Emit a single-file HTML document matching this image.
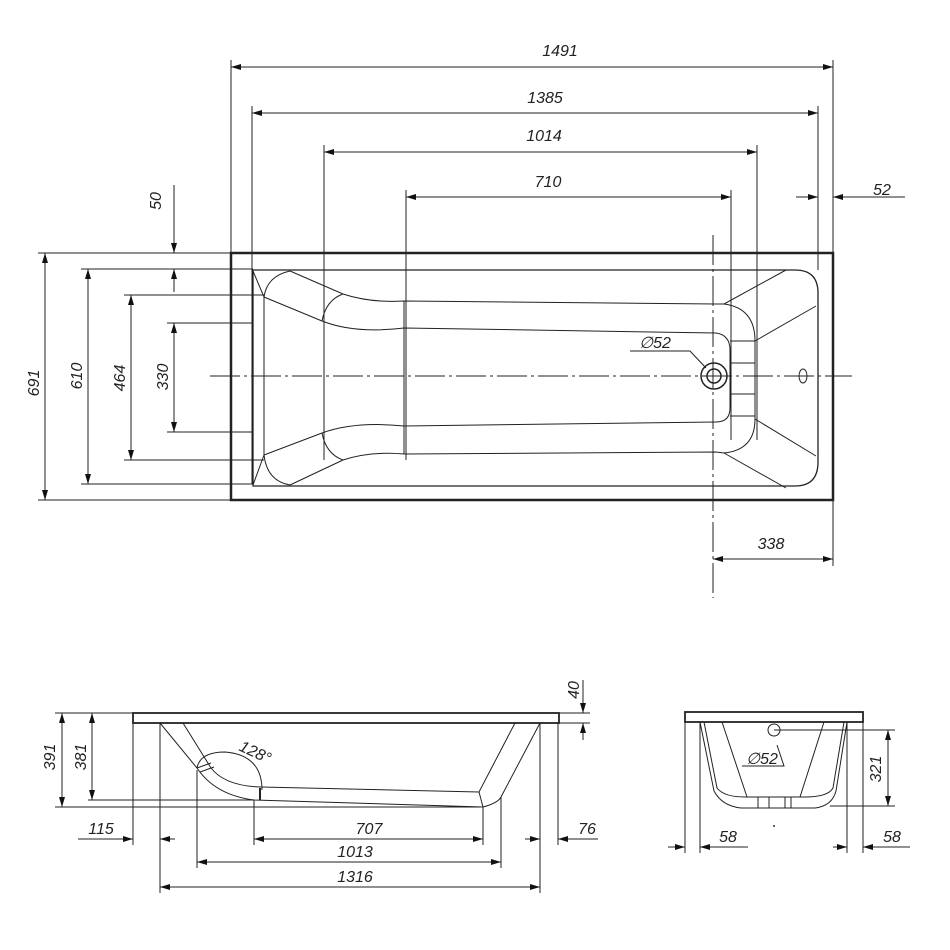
<!DOCTYPE html>
<html><head><meta charset="utf-8"><style>
html,body{margin:0;padding:0;background:#fff}
svg{display:block}
text{font-family:"Liberation Sans",sans-serif;font-style:italic;font-size:16px;fill:#222}
</style></head><body>
<svg width="950" height="950" viewBox="0 0 950 950" xmlns="http://www.w3.org/2000/svg">
<defs>
<marker id="a" viewBox="0 0 10 6" refX="10" refY="3" markerWidth="10" markerHeight="6" orient="auto-start-reverse" markerUnits="userSpaceOnUse"><path d="M0,0L10,3L0,6z" fill="#111"/></marker>
</defs>
<g stroke="#222" stroke-width="1" fill="none">
<!-- top dims -->
<line x1="231" y1="67" x2="833" y2="67" marker-start="url(#a)" marker-end="url(#a)"/>
<line x1="252" y1="113" x2="818" y2="113" marker-start="url(#a)" marker-end="url(#a)"/>
<line x1="324" y1="152" x2="757" y2="152" marker-start="url(#a)" marker-end="url(#a)"/>
<line x1="406" y1="197" x2="731" y2="197" marker-start="url(#a)" marker-end="url(#a)"/>
<line x1="796" y1="197" x2="818" y2="197" marker-end="url(#a)"/>
<line x1="905" y1="197" x2="833" y2="197" marker-end="url(#a)"/>
<line x1="231" y1="60" x2="231" y2="253"/>
<line x1="252" y1="106" x2="252" y2="484"/>
<line x1="324" y1="145" x2="324" y2="460"/>
<line x1="406" y1="190" x2="406" y2="460"/>
<line x1="731" y1="190" x2="731" y2="440"/>
<line x1="757" y1="145" x2="757" y2="440"/>
<line x1="818" y1="106" x2="818" y2="270"/>
<line x1="833" y1="60" x2="833" y2="566"/>
<line x1="713" y1="235" x2="713" y2="598" stroke-dasharray="30,4,3,4"/>
<line x1="713" y1="559" x2="833" y2="559" marker-start="url(#a)" marker-end="url(#a)"/>
<!-- left dims -->
<line x1="45" y1="253" x2="45" y2="500" marker-start="url(#a)" marker-end="url(#a)"/>
<line x1="88" y1="269" x2="88" y2="484" marker-start="url(#a)" marker-end="url(#a)"/>
<line x1="131" y1="295" x2="131" y2="460" marker-start="url(#a)" marker-end="url(#a)"/>
<line x1="174" y1="323" x2="174" y2="432" marker-start="url(#a)" marker-end="url(#a)"/>
<line x1="174" y1="185" x2="174" y2="253" marker-end="url(#a)"/>
<line x1="174" y1="292" x2="174" y2="269" marker-end="url(#a)"/>
<line x1="38" y1="253" x2="231" y2="253"/>
<line x1="38" y1="500" x2="231" y2="500"/>
<line x1="81" y1="269" x2="253" y2="269"/>
<line x1="81" y1="484" x2="253" y2="484"/>
<line x1="124" y1="295" x2="264" y2="295"/>
<line x1="124" y1="460" x2="264" y2="460"/>
<line x1="167" y1="323" x2="253" y2="323"/>
<line x1="167" y1="432" x2="253" y2="432"/>
<!-- outer rect -->
<rect x="231" y="253" width="602" height="247" stroke-width="2.5"/>
<!-- inner rim -->
<path d="M253,270 H795 Q818,270 818,293 V462 Q818,486 795,486 H253 Z" stroke-width="1.3"/>
<!-- head end -->
<path d="M290,271 Q267,276 264,297 V455 Q267,481 290,485"/>
<path d="M253,271 L264,297 M253,485 L264,455"/>
<path d="M290,271 L343,294 M290,485 L343,460"/>
<path d="M264,297 L322,321 M264,455 L322,433"/>
<!-- upper band -->
<path d="M343,294 Q326,300 322,321"/>
<path d="M343,294 Q370,303 404,301 L716,304 L724,304"/>
<path d="M322,321 Q355,334 404,328 L716,333"/>
<!-- lower band -->
<path d="M343,460 Q326,454 322,433"/>
<path d="M343,460 Q370,451 404,454 L716,452 L724,453"/>
<path d="M322,433 Q355,421 404,426 L716,422"/>
<line x1="404" y1="301" x2="404" y2="454"/>
<!-- foot end -->
<path d="M724,304 Q755,308 755,341 V419 Q755,450 724,453"/>
<path d="M716,333 Q730,335 730,350 V408 Q730,422 716,422"/>
<path d="M724,304 L786,270 M755,341 L816,306 M755,419 L816,456 M724,453 L786,488"/>
<line x1="730" y1="341" x2="755" y2="341"/><line x1="730" y1="363" x2="755" y2="363"/>
<line x1="730" y1="394" x2="755" y2="394"/><line x1="730" y1="416" x2="755" y2="416"/>
<!-- centerline -->
<line x1="210" y1="376" x2="852" y2="376" stroke-dasharray="30,4,3,4"/>
<circle cx="714" cy="376" r="13" stroke-width="1.5"/>
<circle cx="714" cy="376" r="7" stroke-width="1.5"/>
<ellipse cx="803" cy="376" rx="4" ry="7"/>
<path d="M630,351 H690 L706,368" />

<!-- SIDE VIEW -->
<rect x="133" y="713" width="426" height="10" stroke-width="1.8"/>
<path d="M160,723 L197,768 Q215,795 254,800 L483,807 Q498,803 501,797 L540,723"/>
<path d="M183,723 L211,768 Q225,786 261,787 L479,792 L515,723"/>
<path d="M197,768 L211,763 M200,772 L214,767"/>
<path d="M479,792 L483,807"/>
<path d="M197,768 Q200,752 225,752 Q262,755 262,790" />
<line x1="260" y1="788" x2="260" y2="800" stroke-width="2"/>
<!-- side dims -->
<line x1="62" y1="713" x2="62" y2="807" marker-start="url(#a)" marker-end="url(#a)"/>
<line x1="92" y1="713" x2="92" y2="800" marker-start="url(#a)" marker-end="url(#a)"/>
<line x1="55" y1="713" x2="133" y2="713"/>
<line x1="88" y1="800" x2="254" y2="800"/>
<line x1="55" y1="807" x2="480" y2="807"/>
<line x1="559" y1="713" x2="590" y2="713"/><line x1="559" y1="723" x2="590" y2="723"/>
<line x1="583" y1="680" x2="583" y2="713" marker-end="url(#a)"/>
<line x1="583" y1="740" x2="583" y2="723" marker-end="url(#a)"/>
<line x1="133" y1="723" x2="133" y2="845"/>
<line x1="160" y1="723" x2="160" y2="893"/>
<line x1="540" y1="723" x2="540" y2="893"/>
<line x1="558" y1="723" x2="558" y2="845"/>
<line x1="197" y1="770" x2="197" y2="868"/>
<line x1="501" y1="797" x2="501" y2="868"/>
<line x1="254" y1="800" x2="254" y2="845"/>
<line x1="483" y1="807" x2="483" y2="845"/>
<line x1="78" y1="839" x2="133" y2="839" marker-end="url(#a)"/>
<line x1="175" y1="839" x2="160" y2="839" marker-end="url(#a)"/>
<line x1="525" y1="839" x2="540" y2="839" marker-end="url(#a)"/>
<line x1="598" y1="839" x2="558" y2="839" marker-end="url(#a)"/>
<line x1="254" y1="839" x2="483" y2="839" marker-start="url(#a)" marker-end="url(#a)"/>
<line x1="197" y1="862" x2="501" y2="862" marker-start="url(#a)" marker-end="url(#a)"/>
<line x1="160" y1="887" x2="540" y2="887" marker-start="url(#a)" marker-end="url(#a)"/>

<!-- END VIEW -->
<rect x="685" y="712" width="178" height="10" stroke-width="1.8"/>
<path d="M700,722 L714,791 Q722,806 741,808 L815,808 Q832,806 836,791 L847,722"/>
<path d="M704,722 L717,788 Q724,797 745,797 L805,797 Q828,797 833,788 L844,722"/>
<path d="M722,722 L747,797 M824,722 L800,797"/>
<line x1="758" y1="797" x2="758" y2="808"/><line x1="769" y1="797" x2="769" y2="808"/>
<line x1="785" y1="797" x2="785" y2="808"/><line x1="791" y1="797" x2="791" y2="808"/>
<circle cx="774" cy="730" r="6"/>
<path d="M742,766 H784 L777,745"/>
<line x1="774" y1="730" x2="895" y2="730"/>
<line x1="830" y1="806" x2="895" y2="806"/>
<line x1="888" y1="730" x2="888" y2="806" marker-start="url(#a)" marker-end="url(#a)"/>
<line x1="685" y1="712" x2="685" y2="853"/><line x1="700" y1="722" x2="700" y2="853"/>
<line x1="847" y1="722" x2="847" y2="853"/><line x1="863" y1="712" x2="863" y2="853"/>
<line x1="668" y1="847" x2="685" y2="847" marker-end="url(#a)"/>
<line x1="748" y1="847" x2="700" y2="847" marker-end="url(#a)"/>
<line x1="833" y1="847" x2="847" y2="847" marker-end="url(#a)"/>
<line x1="910" y1="847" x2="863" y2="847" marker-end="url(#a)"/>
</g>
<circle cx="774" cy="826" r="1" fill="#333"/>
<!-- texts -->
<text x="560" y="56" text-anchor="middle">1491</text>
<text x="545" y="103" text-anchor="middle">1385</text>
<text x="544" y="141" text-anchor="middle">1014</text>
<text x="548" y="187" text-anchor="middle">710</text>
<text x="882" y="195" text-anchor="middle">52</text>
<text x="771" y="549" text-anchor="middle">338</text>
<text x="655" y="348" text-anchor="middle">∅52</text>
<text transform="translate(39,383) rotate(-90)" text-anchor="middle">691</text>
<text transform="translate(82,376) rotate(-90)" text-anchor="middle">610</text>
<text transform="translate(125,378) rotate(-90)" text-anchor="middle">464</text>
<text transform="translate(168,377) rotate(-90)" text-anchor="middle">330</text>
<text transform="translate(161,201) rotate(-90)" text-anchor="middle">50</text>
<text transform="translate(55,757) rotate(-90)" text-anchor="middle">391</text>
<text transform="translate(86,757) rotate(-90)" text-anchor="middle">381</text>
<text transform="translate(579,690) rotate(-90)" text-anchor="middle">40</text>
<text transform="translate(253,757) rotate(25)" text-anchor="middle">128°</text>
<text x="101" y="834" text-anchor="middle">115</text>
<text x="587" y="834" text-anchor="middle">76</text>
<text x="369" y="834" text-anchor="middle">707</text>
<text x="355" y="857" text-anchor="middle">1013</text>
<text x="355" y="882" text-anchor="middle">1316</text>
<text x="762" y="764" text-anchor="middle">∅52</text>
<text transform="translate(881,769) rotate(-90)" text-anchor="middle">321</text>
<text x="728" y="842" text-anchor="middle">58</text>
<text x="892" y="842" text-anchor="middle">58</text>
</svg>
</body></html>
